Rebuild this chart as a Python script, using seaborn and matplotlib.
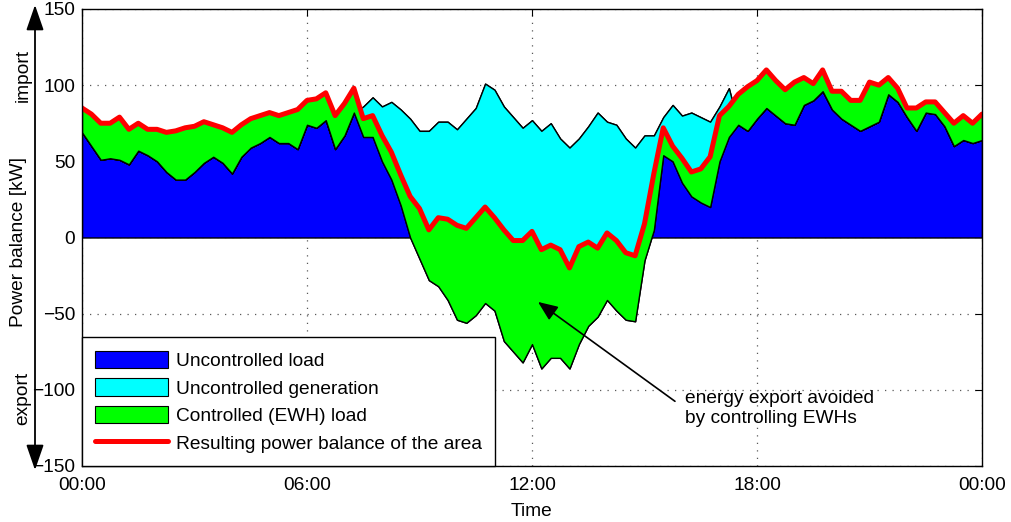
import numpy as np
import matplotlib
matplotlib.use("Agg")
import matplotlib.pyplot as plt
from matplotlib.patches import Patch
from matplotlib.lines import Line2D
import seaborn as sns

# 15-minute samples over one day, in hours
minutes = np.arange(0, 24 * 60 + 1, 15)
hours = minutes / 60.0

# Uncontrolled load of the area [kW]
uncontrolled_load = np.array([
    69, 60, 51, 52, 51, 48, 57, 54, 50, 43, 38, 38, 43, 49, 53, 49, 42, 53, 59, 62,
    66, 62, 62, 58, 74, 72, 77, 58, 67, 82,
    86, 92, 86, 89, 84, 78, 70, 70, 76, 76, 71, 78, 85, 101, 97, 86, 79, 72, 77, 70,
    75, 65, 59, 65, 73, 82, 76, 74, 65, 59, 67, 67, 79, 87, 80, 82, 79, 76, 86, 98,
    74, 70, 78, 85, 80, 75, 74, 87, 90, 96, 84, 78, 74, 70, 73, 76, 94, 89, 79, 70,
    82, 81, 73, 60, 64, 62, 64,
], dtype=float)

# Uncontrolled (PV) generation of the area [kW]
uncontrolled_generation = np.array([0] * 30 + [
    20, 26, 36, 51, 63, 78, 84, 98, 108, 117, 125, 134, 136, 144, 145, 154, 154, 154, 147, 156,
    154, 144, 145, 135, 131, 134, 117, 122, 119, 114, 82, 62, 25, 37, 44, 55, 56, 56, 36, 32,
] + [0] * 27, dtype=float)

# Controlled electric water heater load [kW]
ewh_load = np.array([
    16, 21, 24, 23, 28, 23, 18, 17, 21, 26, 32, 34, 30, 27, 21, 23, 27, 21, 19, 18,
    16, 18, 20, 26, 16, 19, 18, 22, 21, 16,
    12, 14, 17, 18, 20, 27, 33, 33, 45, 53, 62, 62, 64, 63, 61, 73, 73, 80, 74, 78,
    74, 71, 66, 64, 55, 45, 44, 46, 44, 43, 24, 37, 18, 10, 16, 16, 22, 33, 30, 20,
    20, 29, 25, 25, 23, 22, 28, 18, 11, 14, 12, 18, 16, 20, 29, 24, 11, 9, 6, 15,
    7, 8, 9, 15, 16, 13, 17,
], dtype=float)

series_labels = [
    "Uncontrolled load",
    "Uncontrolled generation",
    "Controlled (EWH) load",
    "Resulting power balance of the area",
]
tick_hours = [0, 6, 12, 18, 24]
tick_labels = ["00:00", "06:00", "12:00", "18:00", "00:00"]
y_ticks = [-150, -100, -50, 0, 50, 100, 150]

net_uncontrolled = uncontrolled_load - uncontrolled_generation
power_balance = net_uncontrolled + ewh_load

BLUE, CYAN, GREEN, RED = "#0000ff", "#00ffff", "#00ff00", "#ff0000"
FS = 13.8

sns.set_style("white")
plt.rcParams["font.family"] = ["Liberation Sans", "DejaVu Sans"]
plt.rcParams.update({
    "font.size": FS,
    "text.color": "black",
    "axes.labelcolor": "black",
    "xtick.color": "black",
    "ytick.color": "black",
})

fig, ax = plt.subplots(figsize=(10.11, 5.22), dpi=100)
fig.subplots_adjust(left=0.0811, right=0.9713, top=0.9828, bottom=0.1073)

ax.fill_between(hours, 0, uncontrolled_load, facecolor=BLUE, edgecolor="black", lw=1)
ax.fill_between(hours, net_uncontrolled, uncontrolled_load, facecolor=CYAN,
                edgecolor="black", lw=1)
ax.fill_between(hours, net_uncontrolled, power_balance, facecolor=GREEN,
                edgecolor="black", lw=1)
sns.lineplot(x=hours, y=power_balance, color=RED, lw=3.6, ax=ax, legend=False)

ax.set_xlim(0, 24)
ax.set_ylim(-150, 150)
ax.set_xticks(tick_hours)
ax.set_xticklabels(tick_labels)
ax.set_yticks(y_ticks)
ax.set_axisbelow(True)
ax.grid(True, linestyle=(0, (1, 5)), color="0.35", lw=0.9)
ax.tick_params(direction="in", top=True, right=True, length=5, width=0.8,
               labelsize=FS)
ax.tick_params(axis="x", pad=8)
ax.tick_params(axis="y", pad=5)
for sp in ax.spines.values():
    sp.set_color("black")
    sp.set_linewidth(1.0)

ax.set_xlabel("Time", fontsize=FS)
ax.xaxis.set_label_coords(0.5, -0.080)
ax.set_ylabel("Power balance [kW]", fontsize=FS)
ax.yaxis.set_label_coords(-0.061, 0.49)

# Import / export direction arrow beside the axis
ax.annotate("", xy=(35, 517), xytext=(35, 52), xycoords="figure pixels",
            textcoords="figure pixels",
            arrowprops=dict(arrowstyle="<|-|>,head_length=1.3,head_width=0.45",
                            color="black", lw=1.3, mutation_scale=12,
                            shrinkA=0, shrinkB=0))
fig.text(23 / 1011, 1 - 75 / 522, "import", rotation=90, ha="center", va="center",
         fontsize=FS)
fig.text(23 / 1011, 1 - 398 / 522, "export", rotation=90, ha="center", va="center",
         fontsize=FS)

ax.annotate("energy export avoided\nby controlling EWHs",
            xy=(12.16, -42.3), xytext=(16.08, -112.3),
            ha="left", va="center", fontsize=FS, linespacing=1.25,
            arrowprops=dict(arrowstyle="-|>,head_length=0.6,head_width=0.25",
                            color="black", lw=1.2, mutation_scale=20,
                            relpos=(0, 0.5), shrinkA=6, shrinkB=0))

handles = [
    Patch(facecolor=BLUE, edgecolor="black", lw=0.8),
    Patch(facecolor=CYAN, edgecolor="black", lw=0.8),
    Patch(facecolor=GREEN, edgecolor="black", lw=0.8),
    Line2D([], [], color=RED, lw=3.6),
]
leg = ax.legend(handles, series_labels, loc="lower left", bbox_to_anchor=(0, 0),
                borderaxespad=0, frameon=True, fancybox=False, edgecolor="black",
                framealpha=1, handlelength=3.8, handleheight=1.05, handletextpad=0.4,
                labelspacing=0.42, borderpad=0.7, fontsize=FS)
leg.get_frame().set_linewidth(1.0)

fig.savefig("out.png", dpi=100)
